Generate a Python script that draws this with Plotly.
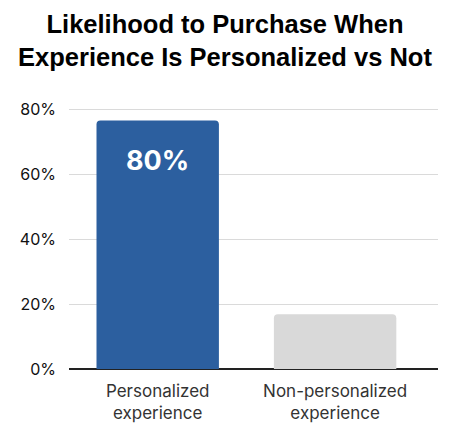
import plotly.graph_objs as go

categories = ["Personalized<br>experience", "Non-personalized<br>experience"]
values = [76.7, 16.9]
bar_labels = ["80%", ""]
bar_colors = ["#2C5F9F", "#D9D9D9"]
tick_vals = [0, 20, 40, 60, 80]
tick_text = ["0%", "20%", "40%", "60%", "80%"]

fig = go.Figure()

fig.add_trace(
    go.Bar(
        x=categories,
        y=values,
        marker=dict(color=bar_colors, cornerradius=4, line=dict(width=0)),
        width=0.69,
        hoverinfo="skip",
    )
)

# big label inside the blue bar
fig.add_annotation(
    x=categories[0],
    y=values[0],
    text="<b>" + bar_labels[0] + "</b>",
    showarrow=False,
    yanchor="top",
    yshift=-22,
    font=dict(family="Inter", size=27, color="white"),
)

# page has an 8px body margin, margins below make up for it
fig.update_layout(
    title=dict(
        text="<b>Likelihood to Purchase When<br>Experience Is Personalized vs Not</b>",
        x=0.478,
        xanchor="center",
        yref="container",
        y=0.944,
        yanchor="middle",
        font=dict(family="Liberation Sans", size=25.5, color="black"),
    ),
    xaxis=dict(
        type="category",
        range=[-0.5, 1.58],
        showgrid=False,
        showline=False,
        ticks="",
        ticklabelstandoff=10,
        tickfont=dict(family="Inter", size=17, color="#333333"),
    ),
    yaxis=dict(
        range=[0, 83],
        tickvals=tick_vals,
        ticktext=tick_text,
        showgrid=True,
        gridcolor="#DADADA",
        gridwidth=1,
        zeroline=True,
        zerolinecolor="#222222",
        zerolinewidth=1.5,
        showline=False,
        ticks="",
        ticklabelstandoff=12,
        tickfont=dict(family="Inter", size=16, color="#111111"),
    ),
    plot_bgcolor="white",
    paper_bgcolor="white",
    showlegend=False,
    width=454,
    height=438,
    margin=dict(l=59, r=24, t=92, b=77),
)

fig.write_html("out.html")
